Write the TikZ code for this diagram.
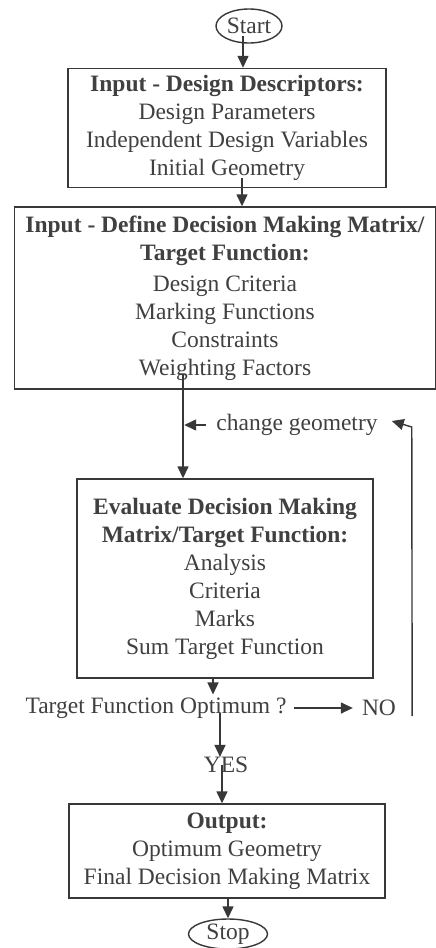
\documentclass[tikz,border=0pt]{standalone}
\usepackage{fontspec}
\setmainfont{Liberation Serif}
\usetikzlibrary{arrows.meta,shapes.geometric}
\begin{document}
\begin{tikzpicture}[x=1pt,y=-1pt,
  ink/.style={draw=black!78, line width=1.4pt},
  boxnode/.style={ink, rectangle, inner sep=0pt, align=center, text=black!75, font=\fontsize{23.5}{28}\selectfont},
  term/.style={ink, ellipse, inner sep=0pt, text=black!75, font=\fontsize{23.5}{28}\selectfont},
  lbl/.style={text=black!75, font=\fontsize{23.5}{28}\selectfont, inner sep=0pt},
  arr/.style={ink, -{Triangle[length=12pt,width=11pt]}}]
\useasboundingbox[fill=white] (0,0) rectangle (436,948);
\node[term, minimum width=66pt, minimum height=34pt] (start) at (249,26) {Start};
\node[boxnode, minimum width=318pt, minimum height=119pt] (b1) at (227,128)
  {\textbf{Input - Design Descriptors:}\\Design Parameters\\Independent Design Variables\\Initial Geometry};
\node[boxnode, minimum width=421pt, minimum height=182pt] (b2) at (225,298)
  {\textbf{Input - Define Decision Making Matrix/}\\\textbf{Target Function:}\\[3pt]Design Criteria\\Marking Functions\\Constraints\\Weighting Factors};
\node[lbl] (cg) at (297,425) {change geometry};
\node[boxnode, minimum width=296pt, minimum height=199pt] (b3) at (225,578.5)
  {\textbf{Evaluate Decision Making}\\\textbf{Matrix/Target Function:}\\Analysis\\Criteria\\Marks\\Sum Target Function};
\node[lbl] (opt) at (156,708) {Target Function Optimum ?};
\node[lbl] (no) at (379,708) {NO};
\node[lbl] (yes) at (226,765) {YES};
\node[boxnode, minimum width=316pt, minimum height=94pt] (b4) at (227,851)
  {\textbf{Output:}\\Optimum Geometry\\Final Decision Making Matrix};
\node[term, minimum width=79pt, minimum height=30pt] (stop) at (228,934) {Stop};

\draw[arr] ([xshift=-6pt,yshift=-10pt]start.center) -- ([xshift=-6pt]start.center |- b1.north);
\draw[arr] ([xshift=15pt,yshift=10pt]b1.south) -- ([xshift=15pt]b1.south |- b2.north);
\draw[arr] ([xshift=-42pt,yshift=16pt]b2.south) -- ([xshift=-42pt]b2.south |- b3.north);
\draw[arr] ([xshift=-10pt]cg.west) -- ++(-22,0);
\draw[arr] ([xshift=-12pt]b3.south) -- ([xshift=-12pt,yshift=3pt]b3.south |- opt.north);
\draw[arr] ([xshift=7pt]opt.east) -- ([xshift=-9pt]no.west);
\draw[arr] ([xshift=-6pt]yes.north |- opt.base) -- ([xshift=-6pt]yes.north);
\draw[arr] ([xshift=-4pt]yes.center) -- ([xshift=-4pt]yes.center |- b4.north);
\draw[arr] ([xshift=1pt]b4.south) -- ([xshift=1pt]b4.south |- stop.north);
\draw[arr] ([xshift=16pt,yshift=-8pt]no.east) -- ([xshift=34pt,yshift=-2pt]cg.east) -- ([xshift=14pt,yshift=4pt]cg.east);
\end{tikzpicture}
\end{document}
